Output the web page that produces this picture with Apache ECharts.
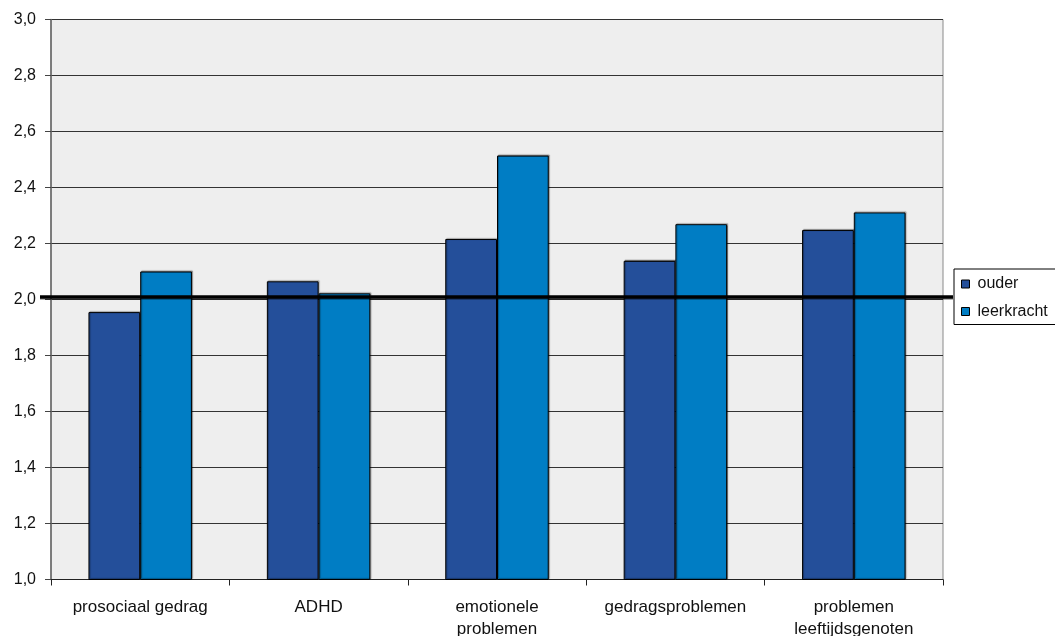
<!DOCTYPE html>
<html>
<head>
<meta charset="utf-8">
<script src="https://cdn.jsdelivr.net/npm/echarts@6/dist/echarts.min.js"></script>
<style>html,body{margin:0;padding:0;background:#fff;}#c{width:1055px;height:636px;}</style>
</head>
<body>
<div id="c"></div>
<script>
var categories = ['prosociaal gedrag', 'ADHD', 'emotionele\nproblemen', 'gedragsproblemen', 'problemen\nleeftijdsgenoten'];
var seriesNames = ['ouder', 'leerkracht'];
var ouder = [1.955, 2.065, 2.216, 2.138, 2.248];
var leerkracht = [2.10, 2.022, 2.514, 2.269, 2.311];
var referenceValue = [2.009];
var yTicks = { min: 1.0, max: 3.0, interval: 0.2 };

var chart = echarts.init(document.getElementById('c'), null, { renderer: 'canvas' });
var font = 'Liberation Sans, Arial, sans-serif';
var barBase = {
  type: 'bar',
  barGap: '0%',
  barCategoryGap: '42%',
  itemStyle: { borderColor: '#000', borderWidth: 1, shadowColor: 'rgba(0,0,0,0.35)', shadowOffsetX: 1, shadowOffsetY: -1, shadowBlur: 1 },
  emphasis: { disabled: true }
};
var option = {
  animation: false,
  textStyle: { fontFamily: font },
  grid: { left: 51, right: 112, top: 19.5, bottom: 56.5, outerBoundsMode: 'none', containLabel: false,
    show: true, backgroundColor: '#EEEEEE', borderColor: '#8a8a8a', borderWidth: 1 },
  legend: {
    orient: 'vertical', left: 954, top: 269,
    data: seriesNames,
    icon: 'rect', itemWidth: 8, itemHeight: 8, itemGap: 11.5,
    padding: [7, 10, 5, 7],
    borderColor: '#000', borderWidth: 1, backgroundColor: '#fff',
    textStyle: { fontSize: 16, color: '#111', fontFamily: font, padding: [0, 0, 0, 3] },
    itemStyle: { borderColor: '#000', borderWidth: 1 }
  },
  xAxis: {
    type: 'category', data: categories,
    axisLine: { lineStyle: { color: '#222', width: 1 } },
    axisTick: { show: true, interval: 0, length: 6, lineStyle: { color: '#222' } },
    axisLabel: { interval: 0, hideOverlap: false, fontSize: 17, color: '#111', margin: 17, lineHeight: 22, fontFamily: font }
  },
  yAxis: {
    type: 'value', min: yTicks.min, max: yTicks.max, interval: yTicks.interval,
    axisLine: { show: true, lineStyle: { color: '#666', width: 1.5 } },
    axisTick: { show: true, length: 6, lineStyle: { color: '#444' } },
    axisLabel: { fontSize: 16, color: '#111', margin: 15, fontFamily: font,
      formatter: function (v) { return v.toFixed(1).replace('.', ','); } },
    splitLine: { lineStyle: { color: '#333', width: 1 } }
  },
  series: [
    Object.assign({}, barBase, { name: seriesNames[0], data: ouder, itemStyle: Object.assign({}, barBase.itemStyle, { color: '#244F9A' }) }),
    Object.assign({}, barBase, { name: seriesNames[1], data: leerkracht, itemStyle: Object.assign({}, barBase.itemStyle, { color: '#007DC4' }) })
  ]
};
chart.setOption(option);
var yPix = chart.convertToPixel({ yAxisIndex: 0 }, referenceValue[0]);
chart.setOption({
  graphic: [
    { type: 'line', z: 100, shape: { x1: 40, y1: yPix + 2, x2: 953, y2: yPix + 2 }, style: { stroke: 'rgba(0,0,0,0.3)', lineWidth: 2 } },
    { type: 'line', z: 101, shape: { x1: 40, y1: yPix, x2: 953, y2: yPix }, style: { stroke: '#000', lineWidth: 3.5 } }
  ]
});
</script>
</body>
</html>
